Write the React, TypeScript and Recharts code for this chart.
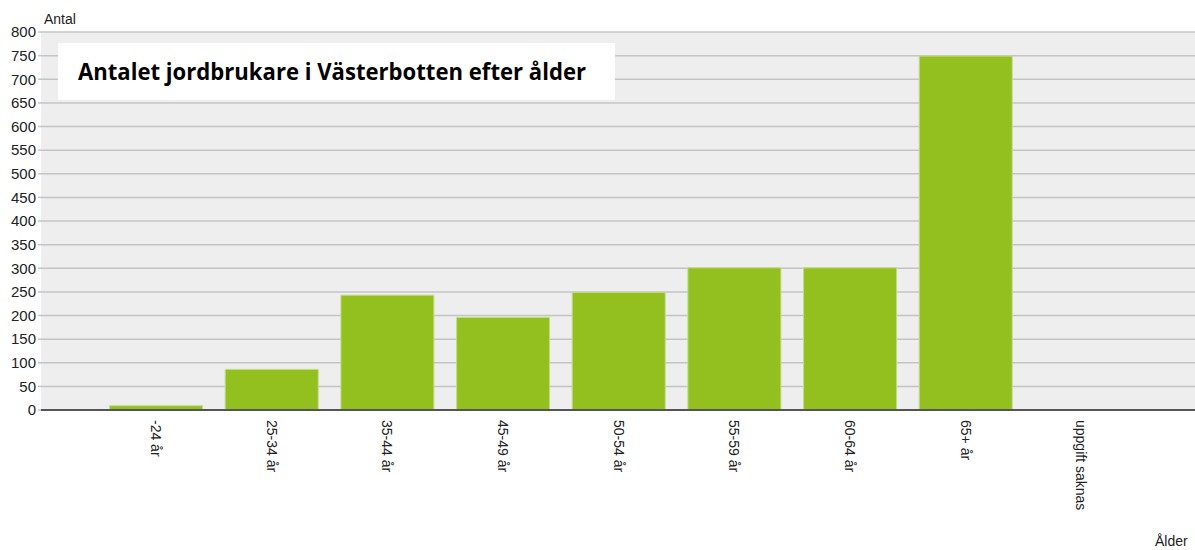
import { BarChart, Bar, XAxis, YAxis, CartesianGrid } from 'recharts';

const ageGroups = ['-24 år', '25-34 år', '35-44 år', '45-49 år', '50-54 år', '55-59 år', '60-64 år', '65+ år', 'uppgift saknas'];
const farmers = [9, 86, 243, 196, 249, 301, 301, 749, 0];
const yTicks = [0, 50, 100, 150, 200, 250, 300, 350, 400, 450, 500, 550, 600, 650, 700, 750, 800];

const data = ageGroups.map((age, i) => ({ age, antal: farmers[i] }));

const W = 1195;
const H = 550;

// rotated category labels, reading top to bottom
function AgeTick({ x, y, payload }: any) {
    return (
        <text
            transform={`translate(${x},${y + 2}) rotate(90)`}
            textAnchor="start"
            dominantBaseline="central"
            fill="#222"
            fontSize={14}
            fontFamily="'Liberation Sans', Arial, sans-serif"
        >
            {payload.value}
        </text>
    );
}

export default function App() {
    return (
        <div style={{ position: 'relative', width: W, height: H, background: '#fff' }}>
            <style>{'body{margin:0}'}</style>
            <BarChart width={W} height={H} data={data} margin={{ top: 32, right: 0, left: 0, bottom: 0 }} barCategoryGap="10%">
                <CartesianGrid vertical={false} fill="#eeeeee" stroke="#c4c4c4" strokeWidth={1.5} />
                <XAxis
                    dataKey="age"
                    interval={0}
                    height={140}
                    padding={{ left: 57, right: 56 }}
                    axisLine={{ stroke: '#555', strokeWidth: 2 }}
                    tickLine={false}
                    tick={<AgeTick />}
                />
                <YAxis
                    width={41}
                    domain={[0, 800]}
                    ticks={yTicks}
                    interval={0}
                    axisLine={false}
                    tickSize={3}
                    tickLine={{ stroke: '#c4c4c4', strokeWidth: 1.5 }}
                    tick={{ fill: '#222', fontSize: 15, fontFamily: "'Liberation Sans', Arial, sans-serif" }}
                />
                <Bar dataKey="antal" fill="#93c01f" stroke="#c2dc8a" strokeWidth={1} isAnimationActive={false} />
            </BarChart>
            <svg width={W} height={H} style={{ position: 'absolute', left: 0, top: 0, pointerEvents: 'none' }}>
                <rect x={58} y={43} width={557} height={57} fill="#fff" />
                <text
                    x={78}
                    y={80}
                    fontSize={23}
                    fontWeight="bold"
                    fontFamily="'Open Sans', sans-serif"
                    fill="#000"
                    textLength={508}
                    lengthAdjust="spacingAndGlyphs"
                >
                    Antalet jordbrukare i Västerbotten efter ålder
                </text>
                <text x={44} y={24} fontSize={14} fill="#222" fontFamily="'Liberation Sans', Arial, sans-serif">Antal</text>
                <text x={1155} y={546} fontSize={14} fill="#222" fontFamily="'Liberation Sans', Arial, sans-serif">Ålder</text>
            </svg>
        </div>
    );
}
